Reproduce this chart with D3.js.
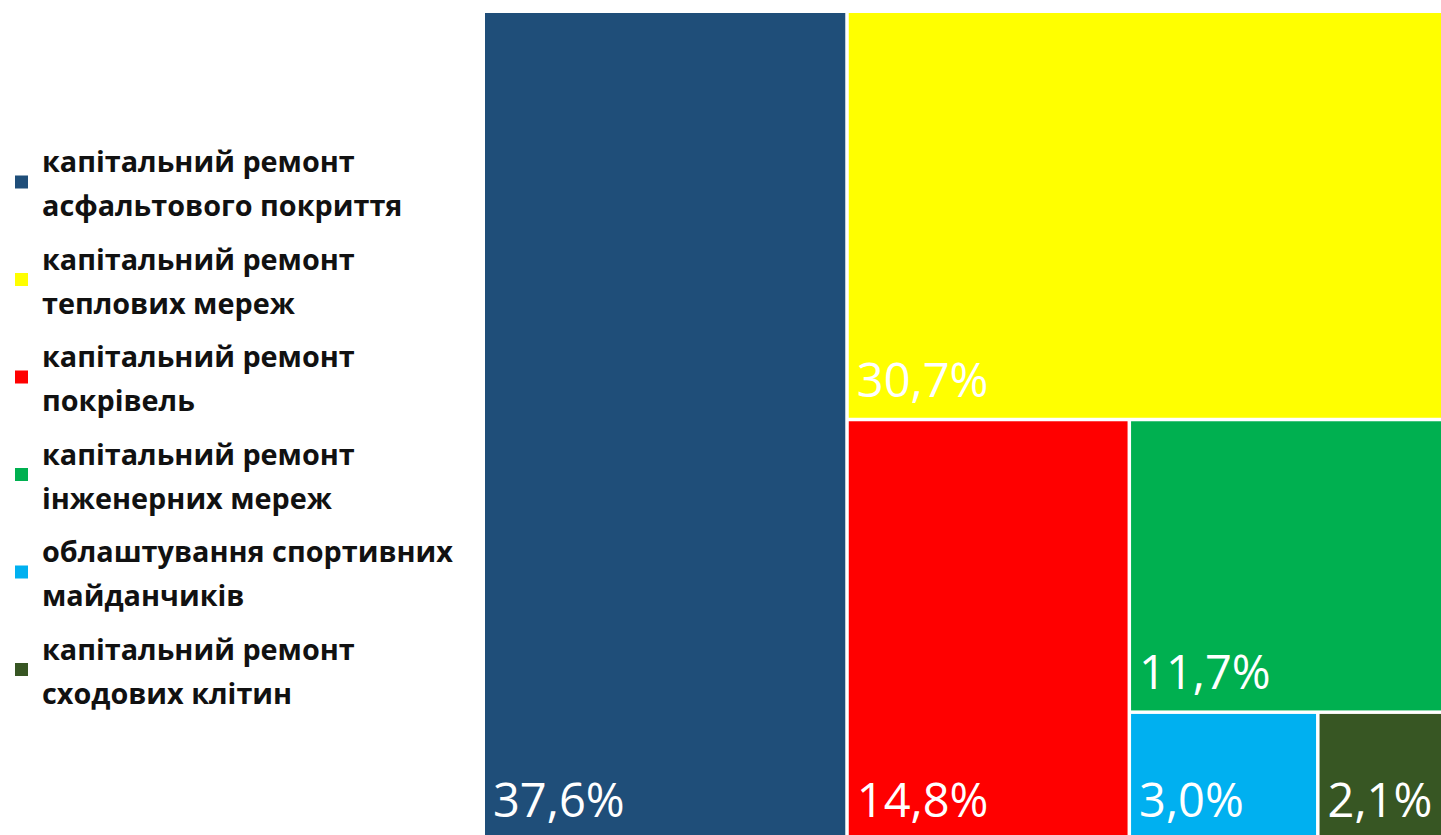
<!DOCTYPE html>
<html><head><meta charset="utf-8">
<script src="https://cdn.jsdelivr.net/npm/d3@7"></script>
<style>html,body{margin:0;padding:0;background:#fff;overflow:hidden;}svg{display:block;}</style>
</head><body>
<svg id="chart" width="1441" height="835"></svg>
<script>
const categories = [
  ["капітальний ремонт", "асфальтового покриття"],
  ["капітальний ремонт", "теплових мереж"],
  ["капітальний ремонт", "покрівель"],
  ["капітальний ремонт", "інженерних мереж"],
  ["облаштування спортивних", "майданчиків"],
  ["капітальний ремонт", "сходових клітин"]
];
const values = [37.6, 30.7, 14.8, 11.7, 3.0, 2.1];
const labels = ["37,6%", "30,7%", "14,8%", "11,7%", "3,0%", "2,1%"];
const colors = ["#1F4E79", "#FFFF00", "#FF0000", "#00B050", "#00B0F0", "#375623"];

const svg = d3.select("#chart");

// Nested hierarchy so slice/dice alternates like the reference
function nest(i) {
  if (i === values.length - 1) return {idx: i, value: values[i]};
  return {children: [{idx: i, value: values[i]}, nest(i + 1)]};
}
const root = d3.hierarchy(nest(0)).sum(d => d.value || 0);
d3.treemap().tile(d3.treemapSliceDice).size([1448 - 485, 838 - 13]).paddingInner(3.5).round(false)(root);

const g = svg.append("g").attr("transform", "translate(485,13)");
const leaves = root.leaves();
const cell = g.selectAll("g.cell").data(leaves).join("g").attr("class", "cell");
cell.append("rect")
  .attr("x", d => d.x0).attr("y", d => d.y0)
  .attr("width", d => d.x1 - d.x0).attr("height", d => d.y1 - d.y0)
  .attr("fill", d => colors[d.data.idx]);
cell.append("text")
  .attr("x", d => d.x0 + 8)
  .attr("y", d => d.y1 - 21)
  .attr("fill", "#fff")
  .attr("font-family", "'Open Sans', sans-serif")
  .attr("font-size", 47)
  .text(d => labels[d.data.idx]);

// Legend
const leg = svg.append("g");
const item = leg.selectAll("g").data(categories).join("g")
  .attr("transform", (d, i) => `translate(0,${172 + i * 97.5})`);
item.append("rect").attr("x", 15).attr("y", 3.5).attr("width", 13).attr("height", 13)
  .attr("fill", (d, i) => colors[i]);
item.each(function(d) {
  const t = d3.select(this).append("text")
    .attr("font-family", "'Open Sans', sans-serif").attr("font-weight", "bold")
    .attr("font-size", 28.8).attr("fill", "#111");
  d.forEach((line, j) => t.append("tspan").attr("x", 42).attr("y", j * 44).text(line));
});
</script>
</body></html>
